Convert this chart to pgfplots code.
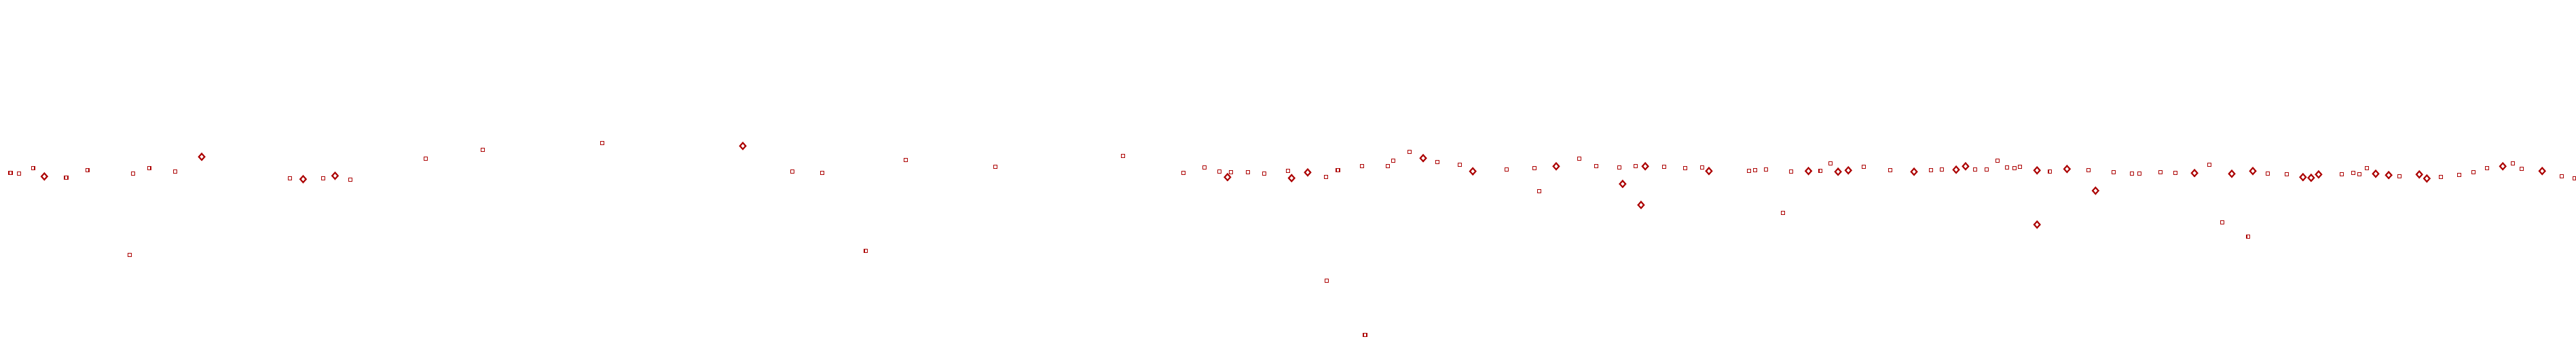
\documentclass[border=0pt]{standalone}
\usepackage{pgfplots}
\pgfplotsset{compat=1.18}
\definecolor{markred}{RGB}{172,0,0}

\begin{document}
\begin{tikzpicture}
\begin{axis}[
    width=37.94cm, height=5cm,
    scale only axis,
    hide axis,
    xmin=0, xmax=3794,
    ymin=0, ymax=500,
    clip=true,
]
% small squares
\addplot[only marks, mark=square, mark size=0.7pt, color=markred,
         mark options={line width=0.32pt}] coordinates {
(15.5,244.7) (28.2,243.7) (48.6,251.7) (97.5,237.7) (128.6,248.7)
(191.4,123.7) (196.3,243.7) (219.6,251.7) (258.3,246.7) (427.4,236.7)
(476.3,236.7) (516.3,234.7) (627.3,265.7) (711.4,278.7) (887.3,288.7)
(1167.2,246.7) (1211.3,244.7) (1275.5,129.7) (1334.3,263.7) (1466.4,253.7)
(1654.1,269.7) (1743.1,244.7) (1774.1,252.7) (1796.2,246.7) (1813.3,245.7)
(1838.2,245.7) (1861.9,243.7) (1897.5,247.7) (1953.4,238.7) (1954.3,85.7)
(1970.6,248.7) (2006.5,254.7) (2010.6,5.7) (2044.4,254.7) (2052.2,262.7)
(2076.2,275.7) (2117.4,260.7) (2150.5,256.7) (2219.1,249.7) (2260.3,251.7)
(2267.2,217.7) (2326.4,265.7) (2351.3,254.7) (2385.5,252.7) (2409.2,254.7)
(2451.4,253.7) (2482.1,251.7) (2507.3,252.7) (2576.3,247.7) (2585.3,248.7)
(2601.2,249.7) (2626.5,185.7) (2638.4,246.7) (2681.6,247.7) (2696.3,258.7)
(2745.3,253.7) (2784.5,248.7) (2844.5,248.7) (2860.4,249.7) (2909.3,249.7)
(2926.5,249.7) (2942.0,262.7) (2956.3,252.7) (2967.3,251.7) (2975.5,253.7)
(3019.6,246.7) (3076.3,248.7) (3113.5,245.7) (3140.3,243.7) (3151.3,243.7)
(3182.3,245.7) (3204.0,244.7) (3254.0,256.7) (3273.0,171.7) (3311.6,150.7)
(3340.3,243.7) (3368.2,242.7) (3449.2,242.7) (3466.0,244.7) (3475.3,242.7)
(3486.4,251.7) (3534.2,239.7) (3595.3,238.7) (3622.3,241.7) (3643.5,245.7)
(3663.4,251.7) (3701.0,258.7) (3714.3,250.7) (3773.2,239.7) (3791.8,236.7)
};
% diamonds
\addplot[only marks, mark=diamond, mark size=1.35pt, color=markred,
         mark options={line width=0.6pt, xscale=1.2}] coordinates {
(65.3,239.7) (297.1,268.7) (446.5,235.7) (493.5,240.7) (1094.1,284.7)
(1808.0,238.7) (1902.4,237.3) (1926.1,245.7) (2096.2,266.7) (2169.3,247.3)
(2292.1,254.7) (2390.0,228.7) (2417.1,197.7) (2423.3,254.7) (2517.1,247.7)
(2663.7,247.7) (2707.3,246.7) (2722.4,248.7) (2819.2,246.7) (2881.2,249.7)
(2895.1,254.7) (3000.4,248.7) (3000.4,168.7) (3044.5,250.7) (3086.5,218.7)
(3232.3,244.7) (3287.2,243.7) (3318.2,247.7) (3392.1,238.7) (3404.1,237.7)
(3415.1,242.7) (3499.2,243.7) (3518.3,241.7) (3563.4,242.7) (3574.5,236.7)
(3686.4,254.7) (3744.4,247.7)
};
\path (rel axis cs:0,0) rectangle (rel axis cs:1,1);
\end{axis}
\end{tikzpicture}
\end{document}
